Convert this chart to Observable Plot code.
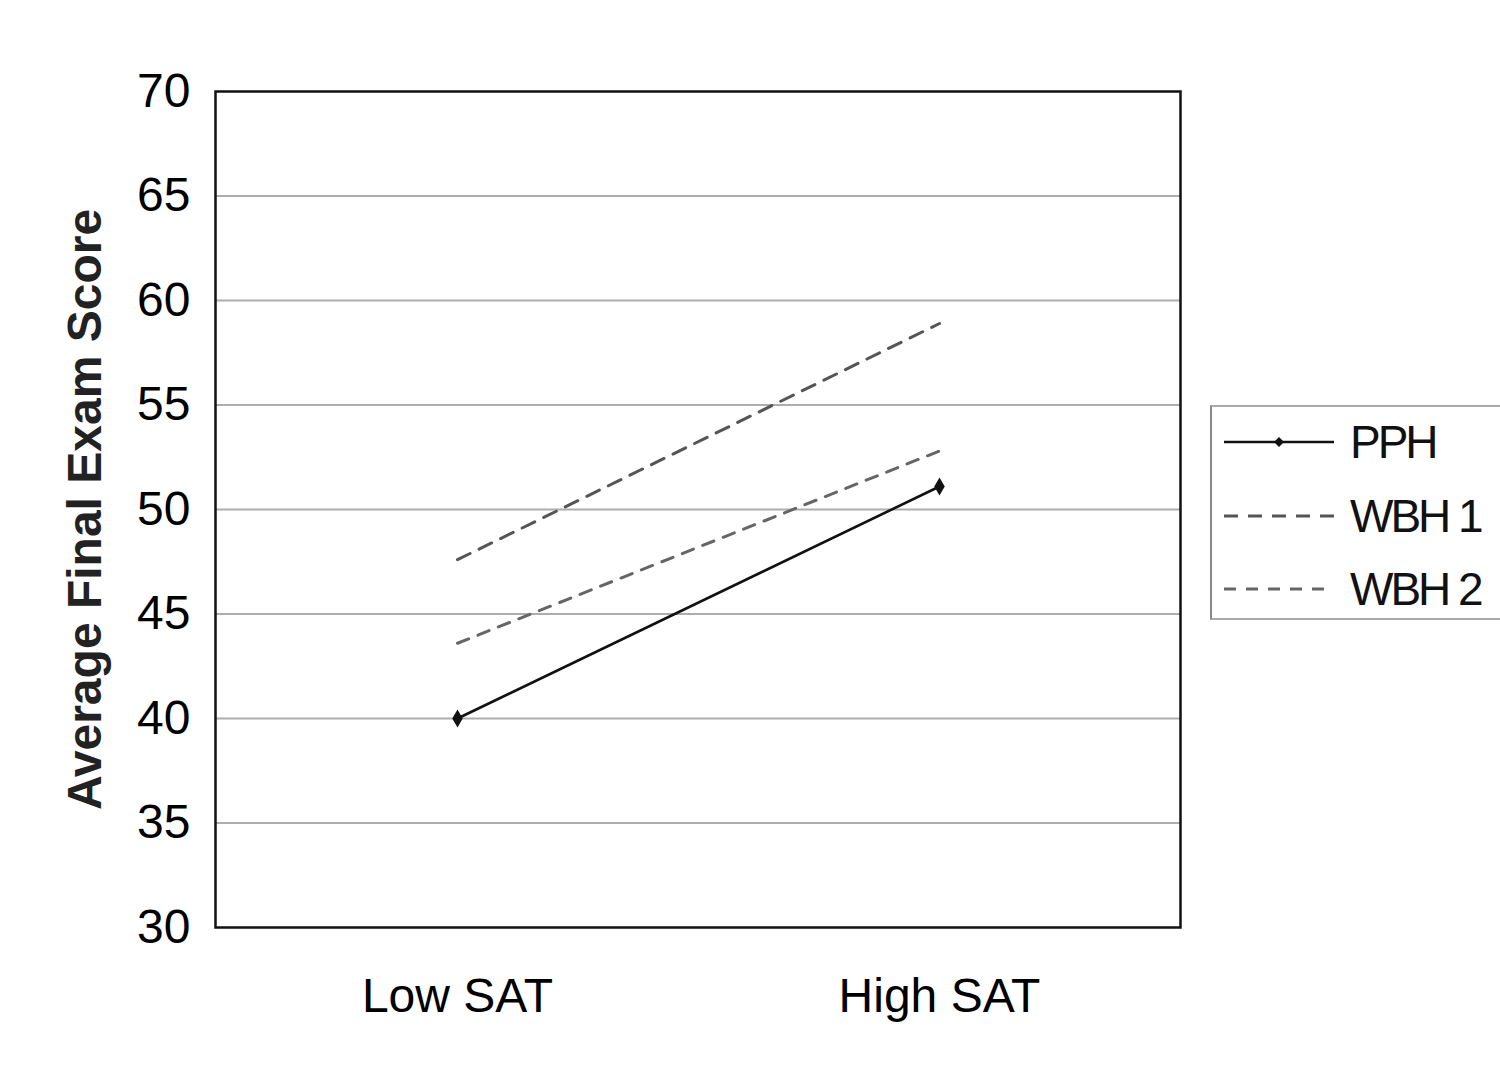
<!DOCTYPE html>
<html>
<head>
<meta charset="utf-8">
<script src="https://cdn.jsdelivr.net/npm/d3@7"></script>
<script src="https://cdn.jsdelivr.net/npm/@observablehq/plot@0.6"></script>
<style>
  body { margin: 0; background: #fff; }
  #wrap { position: relative; width: 1500px; height: 1071px; font-family: "Liberation Sans", Arial, sans-serif; }
  #legend { position: absolute; left: 1210px; top: 405px; width: 290px; height: 215px;
    border-top: 2px solid #aaa; border-bottom: 2px solid #aaa; border-left: 2px solid #888; box-sizing: border-box; }
  .item { position: absolute; left: 12px; display: flex; align-items: center; font-size: 46px; letter-spacing: -3px; color: #111; }
  .item svg { margin-right: 14px; }
</style>
</head>
<body>
<div id="wrap"></div>
<script>
const categories = ["Low SAT", "High SAT"];
const seriesNames = ["PPH", "WBH 1", "WBH 2"];
const pph = [40.0, 51.1];
const wbh1 = [47.6, 58.9];
const wbh2 = [43.6, 52.8];
const yTicks = [30, 35, 40, 45, 50, 55, 60, 65, 70];
const yLabel = "Average Final Exam Score";

const styles = {
  "PPH": {stroke: "#111", dash: null, width: 2.6},
  "WBH 1": {stroke: "#555", dash: "14,10", width: 3},
  "WBH 2": {stroke: "#666", dash: "12,10", width: 3}
};

const seriesValues = [pph, wbh1, wbh2];
const data = [];
seriesNames.forEach((s, i) => categories.forEach((c, j) => data.push({series: s, cat: c, value: seriesValues[i][j]})));

const chart = Plot.plot({
  width: 1500,
  height: 1071,
  marginLeft: 215,
  marginRight: 320,
  marginTop: 91,
  marginBottom: 144,
  style: {fontFamily: "'Liberation Sans', Arial, sans-serif", background: "#fff"},
  x: {type: "point", domain: categories, padding: 0.5},
  y: {domain: [30, 70], ticks: yTicks},
  marks: [
    Plot.gridY(yTicks.filter(t => t > 30 && t < 70), {stroke: "#999", strokeOpacity: 0.8, strokeWidth: 2}),
    Plot.frame({stroke: "#111", strokeWidth: 2.5}),
    Plot.axisY({ticks: yTicks, tickSize: 0, tickPadding: 25, fontSize: 48, label: null, style: {letterSpacing: "-2px"}}),
    Plot.axisX({tickSize: 0, tickPadding: 50, fontSize: 48, label: null, style: {letterSpacing: "-3px"}}),
    Plot.text([yLabel], {frameAnchor: "left", textAnchor: "middle", dx: -130, rotate: -90, fontSize: 48, fontWeight: "bold", fill: "#222"}),
    ...seriesNames.map(s => Plot.line(data.filter(d => d.series === s), {
      x: "cat", y: "value", stroke: styles[s].stroke, strokeWidth: styles[s].width,
      strokeDasharray: styles[s].dash
    })),
    Plot.dot(data.filter(d => d.series === "PPH"), {x: "cat", y: "value", symbol: "diamond", r: 5.5, fill: "#111"})
  ]
});
document.getElementById("wrap").appendChild(chart);

// Legend
const legend = document.createElement("div");
legend.id = "legend";
const tops = [38, 112, 185];
seriesNames.forEach((s, i) => {
  const it = document.createElement("div");
  it.className = "item";
  it.style.top = (tops[i] - 30) + "px";
  const st = styles[s];
  const marker = s === "PPH" ? `<path d="M55,3 L60,8 L55,13 L50,8 Z" fill="#111"/>` : "";
  it.innerHTML = `<svg width="112" height="16"><line x1="0" x2="110" y1="8" y2="8" stroke="${st.stroke}" stroke-width="${st.width}" ${st.dash ? `stroke-dasharray="${st.dash}"` : ""}/>${marker}</svg><span>${s}</span>`;
  legend.appendChild(it);
});
document.getElementById("wrap").appendChild(legend);
</script>
</body>
</html>
